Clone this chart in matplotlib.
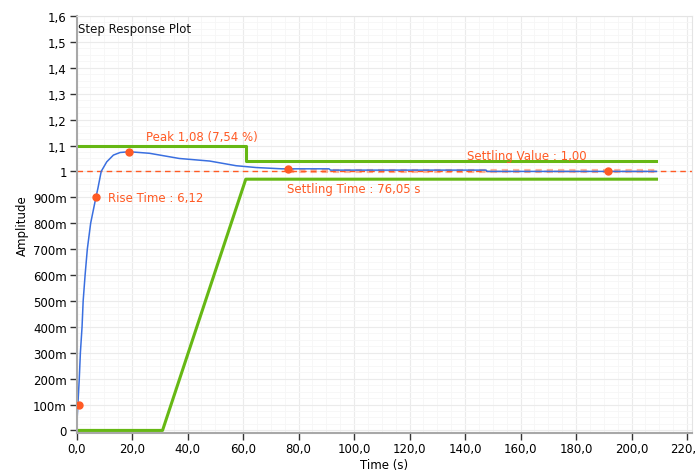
import matplotlib
matplotlib.use("Agg")
import matplotlib.pyplot as plt
from matplotlib.ticker import MultipleLocator, FuncFormatter

# step response
t_resp = [0, 0.5, 1.0, 1.4, 2.0, 2.4, 3.1, 3.9, 5.1, 7.0, 7.7, 8.9, 10.9, 13.3, 15.7, 19.0,
          26.3, 37.0, 48.0, 57.5, 64.7, 74.0, 91.0, 91.5, 147.6, 148.0, 209.0]
y_resp = [0, 0.1, 0.2, 0.3, 0.4, 0.5, 0.6, 0.7, 0.8, 0.9, 0.934, 1.0, 1.037, 1.063, 1.073, 1.076,
          1.07, 1.05, 1.04, 1.022, 1.015, 1.01, 1.01, 1.005, 1.005, 1.0, 1.0]

# settling bounds
t_upper = [0, 61, 61, 209]
y_upper = [1.1, 1.1, 1.04, 1.04]
t_lower = [0, 31, 61, 209]
y_lower = [0, 0, 0.97, 0.97]

# marked points: 10 %, 90 %, peak, settling time, settling value
t_marks = [0.95, 7.07, 19.0, 76.05, 191.5]
y_marks = [0.1, 0.9, 1.0754, 1.01, 1.0]

final_value = 1.0

green = "#66b814"
blue = "#3a6fe0"
orange = "#ff5a24"


def fmt_y(v, pos):
    if abs(v) < 1e-9:
        return "0"
    if v < 0.999:
        return f"{v * 1000:.0f}m"
    if abs(v - 1) < 1e-9:
        return "1"
    return f"{v:.1f}".replace(".", ",")


def fmt_x(v, pos):
    return f"{v:.1f}".replace(".", ",")


fig = plt.figure(figsize=(6.96, 4.77), dpi=100)
ax = fig.add_axes([76.5 / 696, 1 - 433.5 / 477, (692 - 76.5) / 696, (433.5 - 17) / 477])

ax.set_xlim(0, 221.8)
ax.set_ylim(-0.008, 1.6)
ax.xaxis.set_major_locator(MultipleLocator(20))
ax.xaxis.set_minor_locator(MultipleLocator(5))
ax.yaxis.set_major_locator(MultipleLocator(0.1))
ax.yaxis.set_minor_locator(MultipleLocator(0.025))
ax.xaxis.set_major_formatter(FuncFormatter(fmt_x))
ax.yaxis.set_major_formatter(FuncFormatter(fmt_y))

ax.grid(True, which="major", color="#ebebeb", linewidth=0.8)
ax.grid(True, which="minor", color="#f6f6f6", linewidth=0.6)
ax.set_axisbelow(True)
ax.tick_params(which="major", direction="out", length=5, width=1, color="#333333",
               labelsize=8.5, pad=2)
ax.tick_params(which="minor", length=0)
for side in ["top", "right"]:
    ax.spines[side].set_color("#e4e4e4")
for side in ["left", "bottom"]:
    ax.spines[side].set_color("#a8a8a8")
    ax.spines[side].set_linewidth(1.5)

# final value line
ax.axhline(final_value, color=orange, linestyle=(0, (4, 3)), linewidth=1)
ax.plot([t_marks[3], 209], [final_value, final_value], color=orange, alpha=0.45,
        linestyle=(0, (1.5, 1.2)), linewidth=3)

ax.plot(t_upper, y_upper, color=green, linewidth=2.2)
ax.plot(t_lower, y_lower, color=green, linewidth=2.2)
ax.plot(t_resp, y_resp, color=blue, linewidth=1.1)
ax.plot(t_marks, y_marks, "o", color=orange, markersize=5, zorder=5)

ax.text(0.5, 1.575, "Step Response Plot", fontsize=8.5, va="top", ha="left", color="#111111")
ax.text(25.0, 1.135, "Peak 1,08 (7,54 %)", fontsize=8.5, va="center", color=orange)
ax.text(11.2, 0.899, "Rise Time : 6,12", fontsize=8.5, va="center", color=orange)
ax.text(75.7, 0.934, "Settling Time : 76,05 s", fontsize=8.5, va="center", color=orange)
ax.text(140.6, 1.062, "Settling Value : 1,00", fontsize=8.5, va="center", color=orange)

ax.set_xlabel("Time (s)", fontsize=8.5, labelpad=2)
ax.set_ylabel("Amplitude", fontsize=8.5, labelpad=3)

fig.savefig("out.png", dpi=100)
